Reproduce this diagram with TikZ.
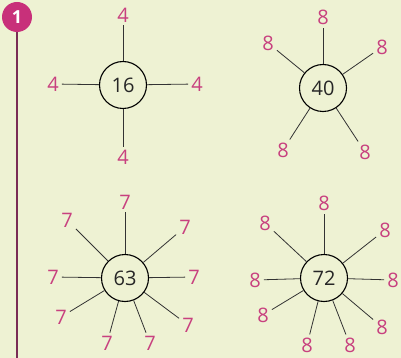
\documentclass[tikz,border=0pt]{standalone}
\usepackage{fontspec}
\setmainfont{Open Sans}
\definecolor{bg}{HTML}{EEF2D3}
\definecolor{pinkl}{HTML}{C8417F}
\definecolor{badge}{HTML}{C8307A}
\definecolor{rule}{HTML}{7A2D55}
\begin{document}
\begin{tikzpicture}[x=1pt,y=-1pt,
  hub/.style={circle,draw=black,line width=1.1pt,minimum size=47pt,inner sep=0pt,font=\fontsize{20}{20}\selectfont,text=black!85},
  lab/.style={inner sep=3pt,font=\fontsize{20}{20}\selectfont,text=pinkl},
  ray/.style={draw=black!80,line width=0.8pt}]
\fill[bg] (0,0) rectangle (401,358);
\useasboundingbox (0,0) rectangle (401,358);
\draw[rule,line width=1.5pt] (17,30) -- (17,358);
\node[circle,fill=badge,minimum size=30pt,inner sep=0pt,text=white,font=\fontsize{18}{18}\selectfont\bfseries] (badge) at (17,17) {1};
% 16
\node[hub] (c1) at (123,85) {16};
\node[lab] (a1) at (123,15) {4};
\node[lab] (a2) at (53,84) {4};
\node[lab] (a3) at (197,84) {4};
\node[lab] (a4) at (123,157) {4};
\foreach \n in {a1,a2,a3,a4} \draw[ray] (c1) -- (\n);
% 40
\node[hub] (c2) at (323,88) {40};
\node[lab] (b1) at (323,17) {8};
\node[lab] (b2) at (268,43) {8};
\node[lab] (b3) at (382,47) {8};
\node[lab] (b4) at (283,150) {8};
\node[lab] (b5) at (365,152) {8};
\foreach \n in {b1,b2,b3,b4,b5} \draw[ray] (c2) -- (\n);
% 63
\node[hub] (c3) at (125,278) {63};
\node[lab] (d1) at (125,202) {7};
\node[lab] (d2) at (67,220) {7};
\node[lab] (d3) at (185,227) {7};
\node[lab] (d4) at (53,277) {7};
\node[lab] (d5) at (194,277) {7};
\node[lab] (d6) at (61,317) {7};
\node[lab] (d7) at (188,325) {7};
\node[lab] (d8) at (107,343) {7};
\node[lab] (d9) at (150,343) {7};
\foreach \n in {d1,d2,d3,d4,d5,d6,d7,d8,d9} \draw[ray] (c3) -- (\n);
% 72
\node[hub] (c4) at (324,278) {72};
\node[lab] (e1) at (324,203) {8};
\node[lab] (e2) at (265,223) {8};
\node[lab] (e3) at (385,230) {8};
\node[lab] (e4) at (255,280) {8};
\node[lab] (e5) at (393,280) {8};
\node[lab] (e6) at (263,315) {8};
\node[lab] (e7) at (382,327) {8};
\node[lab] (e8) at (307,345) {8};
\node[lab] (e9) at (350,345) {8};
\foreach \n in {e1,e2,e3,e4,e5,e6,e7,e8,e9} \draw[ray] (c4) -- (\n);
\end{tikzpicture}
\end{document}
